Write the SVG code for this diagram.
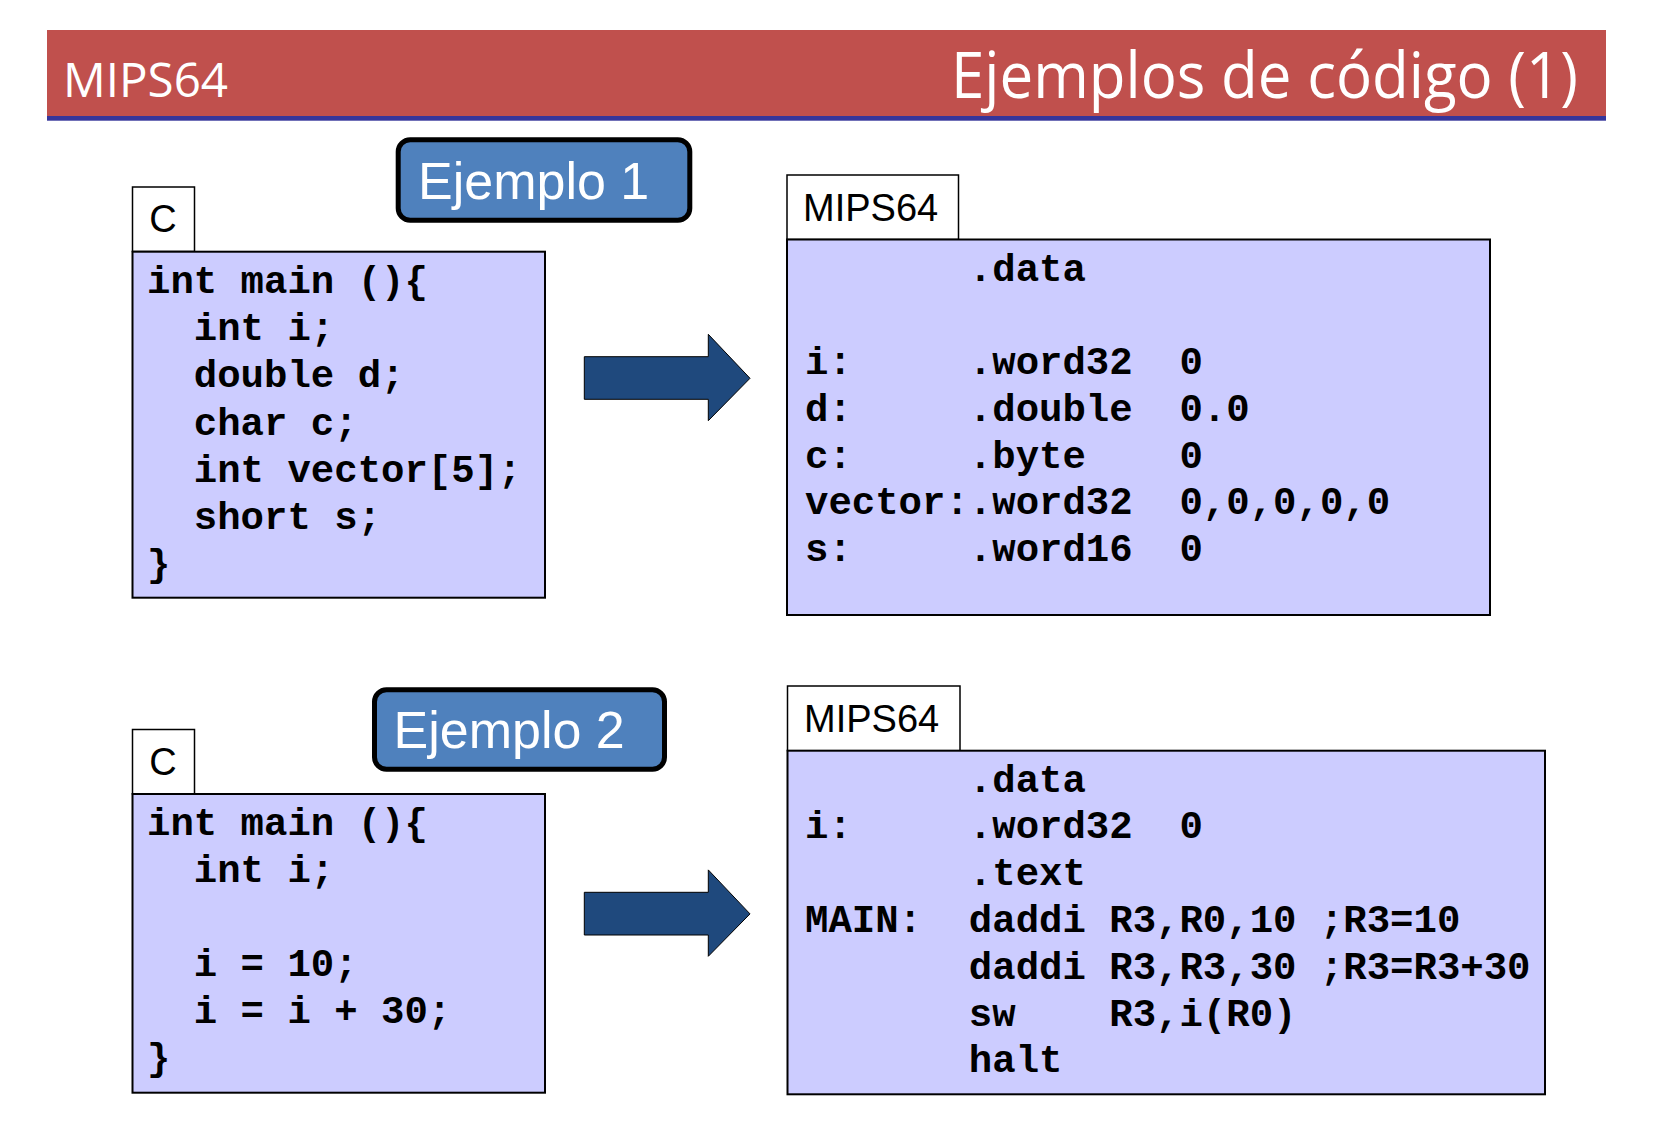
<svg xmlns="http://www.w3.org/2000/svg" width="1653" height="1144" viewBox="0 0 1653 1144" xml:space="preserve">
<style>
.code{font-family:"Liberation Mono","Courier New",monospace;font-weight:bold;font-size:39px;fill:#000;white-space:pre}
.lbl{font-family:"Liberation Sans",Arial,sans-serif;font-size:38px;fill:#000}
.badge{fill:#4F81BD;stroke:#000;stroke-width:5}
.badgetxt{font-family:"Liberation Sans",Arial,sans-serif;font-size:52px;fill:#fff}
.box{fill:#CCCCFF;stroke:#000;stroke-width:2}
.tab{fill:#fff;stroke:#000;stroke-width:1.5}
.arrow{fill:#1F497D;stroke:#000;stroke-width:1}
.hdr{font-family:"Comic Sans MS","Open Sans","Noto Sans",sans-serif;fill:#fff}
</style>
<rect width="1653" height="1144" fill="#fff"/>
<g id="header">
<rect x="47" y="30" width="1559" height="86" fill="#C0504D"/>
<rect x="47" y="116" width="1559" height="4.7" fill="#35359B"/>
<text class="hdr" x="63" y="96.5" font-size="48" textLength="165" lengthAdjust="spacingAndGlyphs">MIPS64</text>
<text class="hdr" x="951" y="97.5" font-size="64" textLength="627" lengthAdjust="spacingAndGlyphs">Ejemplos de código (1)</text>
</g>
<g id="badge1">
<rect class="badge" x="398.2" y="139.8" width="291.6" height="80.4" rx="12"/>
<text class="badgetxt" x="418" y="199.3">Ejemplo 1</text>
</g>
<g id="c1">
<rect class="tab" x="132.5" y="187" width="62" height="64.5"/>
<text class="lbl" x="149.3" y="231.7">C</text>
<rect class="box" x="132.5" y="251.7" width="412.5" height="346"/>
<text class="code" x="147" y="293">int main (){</text>
<text class="code" x="147" y="340.2">  int i;</text>
<text class="code" x="147" y="387.4">  double d;</text>
<text class="code" x="147" y="434.6">  char c;</text>
<text class="code" x="147" y="481.8">  int vector[5];</text>
<text class="code" x="147" y="529">  short s;</text>
<text class="code" x="147" y="576.2">}</text>
</g>
<g id="mips1">
<rect class="tab" x="787" y="175" width="171.5" height="64.5"/>
<text class="lbl" x="803" y="221">MIPS64</text>
<rect class="box" x="787" y="239.5" width="703" height="375.5"/>
<text class="code" x="805" y="280.5">       .data</text>
<text class="code" x="805" y="374">i:     .word32  0</text>
<text class="code" x="805" y="420.8">d:     .double  0.0</text>
<text class="code" x="805" y="467.6">c:     .byte    0</text>
<text class="code" x="805" y="514.4">vector:.word32  0,0,0,0,0</text>
<text class="code" x="805" y="561.2">s:     .word16  0</text>
</g>
<g id="badge2">
<rect class="badge" x="374.5" y="689.8" width="290" height="79.4" rx="12"/>
<text class="badgetxt" x="393.5" y="748.3">Ejemplo 2</text>
</g>
<g id="c2">
<rect class="tab" x="132.5" y="729.5" width="62" height="64.5"/>
<text class="lbl" x="149.2" y="775">C</text>
<rect class="box" x="132.5" y="794" width="412.5" height="298.7"/>
<text class="code" x="147" y="834.6">int main (){</text>
<text class="code" x="147" y="881.6">  int i;</text>
<text class="code" x="147" y="975.6">  i = 10;</text>
<text class="code" x="147" y="1022.6">  i = i + 30;</text>
<text class="code" x="147" y="1069.6">}</text>
</g>
<g id="mips2">
<rect class="tab" x="787.5" y="686" width="172.5" height="64.7"/>
<text class="lbl" x="804" y="731.7">MIPS64</text>
<rect class="box" x="787.5" y="750.7" width="757.5" height="343.6"/>
<text class="code" x="805" y="791.5">       .data</text>
<text class="code" x="805" y="838.3">i:     .word32  0</text>
<text class="code" x="805" y="885.1">       .text</text>
<text class="code" x="805" y="931.9">MAIN:  daddi R3,R0,10 ;R3=10</text>
<text class="code" x="805" y="978.7">       daddi R3,R3,30 ;R3=R3+30</text>
<text class="code" x="805" y="1025.5">       sw    R3,i(R0)</text>
<text class="code" x="805" y="1072.3">       halt</text>
</g>
<g id="connectors">
<polygon class="arrow" points="584.3,356.7 708.3,356.7 708.3,334.3 750,378.3 708.3,420.7 708.3,399.3 584.3,399.3"/>
<polygon class="arrow" points="584.3,892.3 708.3,892.3 708.3,869.9 750,913.9 708.3,956.3 708.3,935 584.3,935"/>
</g>
</svg>
